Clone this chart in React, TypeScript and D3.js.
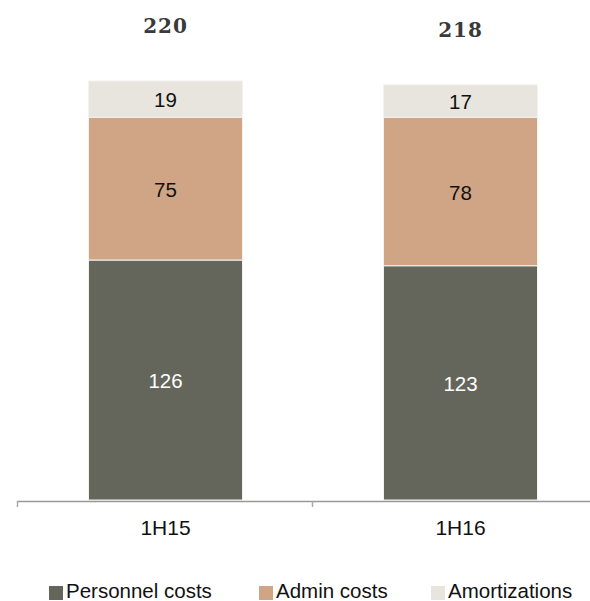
import React from "react";
import * as d3 from "d3";

const categories = ["1H15", "1H16"];
const personnel = [126, 123];
const admin = [75, 78];
const amort = [19, 17];
const totals = [220, 218];
const seriesNames = ["Personnel costs", "Admin costs", "Amortizations"];
const colors = ["#65665b", "#cfa586", "#e8e5de"];
const labelColors = ["#ffffff", "#111111", "#111111"];

export default function App() {
  const W = 590, H = 601;
  const x = d3.scaleBand().domain(categories).range([18, 608]).paddingInner(0).paddingOuter(0);
  const y = d3.scaleLinear().domain([0, 220]).range([500, 81]);
  const barW = 154;
  const rows = categories.map((c, i) => ({ cat: c, p: personnel[i], a: admin[i], m: amort[i] }));
  const stack = d3.stack<any>().keys(["p", "a", "m"])(rows);
  const legendX = [49, 259, 431];
  const font = "Liberation Sans, Arial, sans-serif";
  return (
    <svg width={W} height={H} style={{ position: "absolute", left: 0, top: 0 }}>
      {stack.map((layer, si) =>
        layer.map((d, i) => {
          const cx = x(categories[i])! + x.bandwidth() / 2;
          const y0 = y(d[0]), y1 = y(d[1]);
          return (
            <g key={`${si}-${i}`}>
              <rect x={cx - barW / 2} y={y1} width={barW} height={y0 - y1} fill={colors[si]} stroke="#f4f2ee" strokeWidth={1} />
              <text x={cx} y={(y0 + y1) / 2} dy="0.4em" textAnchor="middle" fontFamily={font} fontSize={20.5} fill={labelColors[si]}>
                {d[1] - d[0]}
              </text>
            </g>
          );
        })
      )}
      {categories.map((c, i) => {
        const cx = x(c)! + x.bandwidth() / 2;
        return (
          <text key={c} x={cx} y={y(totals[i]) - 48} textAnchor="middle" fontFamily="DejaVu Serif, serif" fontWeight="bold" fontSize={20} fill="#3a3a3a" letterSpacing={1}>
            {totals[i]}
          </text>
        );
      })}
      <line x1={17} x2={590} y1={501.5} y2={501.5} stroke="#999" strokeWidth={1.5} />
      {categories.map((c) => (
        <line key={c} x1={x(c)! - 0.5} x2={x(c)! - 0.5} y1={501} y2={507} stroke="#aaa" strokeWidth={1.5} />
      ))}
      {categories.map((c) => (
        <text key={c} x={x(c)! + x.bandwidth() / 2} y={535} textAnchor="middle" fontFamily={font} fontSize={21} fill="#111">
          {c}
        </text>
      ))}
      {seriesNames.map((n, i) => (
        <g key={n}>
          <rect x={legendX[i]} y={586} width={14} height={14} fill={colors[i]} />
          <text x={legendX[i] + 17} y={598} fontFamily={font} fontSize={20.5} fill="#111">
            {n}
          </text>
        </g>
      ))}
    </svg>
  );
}
